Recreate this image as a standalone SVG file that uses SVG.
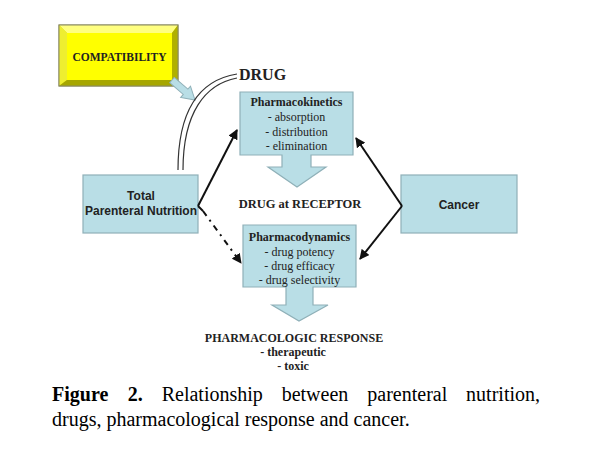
<svg xmlns="http://www.w3.org/2000/svg" width="597" height="463" viewBox="0 0 597 463">
<defs>
<style>
.box{fill:#b9dee6;stroke:#8fb0b8;stroke-width:1.2}
.ln{stroke:#111;stroke-width:2;fill:none}
</style>
<marker id="ah" viewBox="0 0 10 10" refX="9" refY="5" markerWidth="5" markerHeight="5" orient="auto" markerUnits="strokeWidth">
<path d="M0,0 L10,5 L0,10 Z" fill="#111"/>
</marker>
</defs>
<rect width="597" height="463" fill="#fff"/>

<g id="compatibility">
<rect x="59" y="25" width="119" height="61" fill="#d6d600" stroke="#8a8a60" stroke-width="1"/>
<polygon points="59,25 178,25 172,33 67,33" fill="#ffff80"/>
<polygon points="59,25 67,33 67,80 59,86" fill="#eeee30"/>
<polygon points="178,25 178,86 172,80 172,33" fill="#b0b000"/>
<polygon points="59,86 178,86 172,80 67,80" fill="#a6a600"/>
<rect x="67" y="33" width="105" height="47" fill="#ffff00"/>
<rect x="59" y="25" width="119" height="61" fill="none" stroke="#8a8a60" stroke-width="1"/>
<text x="119.5" y="61" font-family="'Liberation Serif','Times New Roman',serif" font-weight="bold" font-size="11.5" fill="#222" text-anchor="middle">COMPATIBILITY</text>
<path transform="translate(172,80) rotate(41)" d="M0,-3.5 L18,-3.5 L18,-7.5 L30.5,0 L18,7.5 L18,3.5 L0,3.5 Z" fill="#b9dee6" stroke="#8fb0b8" stroke-width="1"/>
</g>

<g id="drug">
<path d="M237,74 C200,80 178,110 178,170" fill="none" stroke="#333" stroke-width="1.2"/>
<path d="M237,78 C205,84 183,113 183,170" fill="none" stroke="#333" stroke-width="1.2"/>
<text x="239" y="80" font-family="'Liberation Serif','Times New Roman',serif" font-weight="bold" font-size="16" fill="#222">DRUG</text>
</g>

<g id="pharmacokinetics" font-family="'Liberation Serif','Times New Roman',serif" font-size="12" fill="#222" text-anchor="middle">
<path class="box" d="M240,92 H353 V155 H311 V167 H326 L297,187 L268,167 H282 V155 H240 Z"/>
<text x="296.5" y="106" font-weight="bold">Pharmacokinetics</text>
<text x="296.5" y="121">- absorption</text>
<text x="296.5" y="135.5">- distribution</text>
<text x="296.5" y="150">- elimination</text>
</g>

<g id="receptor">
<text x="300" y="208" font-family="'Liberation Serif','Times New Roman',serif" font-weight="bold" font-size="12.5" fill="#222" text-anchor="middle">DRUG at RECEPTOR</text>
</g>

<g id="pharmacodynamics" font-family="'Liberation Serif','Times New Roman',serif" font-size="12" fill="#222" text-anchor="middle">
<path class="box" d="M243,225 H356 V287 H313 V305 H328 L299,321 L272,305 H286 V287 H243 Z"/>
<text x="299.5" y="241" font-weight="bold">Pharmacodynamics</text>
<text x="299.5" y="255.5">- drug potency</text>
<text x="299.5" y="269.5">- drug efficacy</text>
<text x="299.5" y="283.5">- drug selectivity</text>
</g>

<g id="response" font-family="'Liberation Serif','Times New Roman',serif" font-weight="bold" font-size="12" fill="#222" text-anchor="middle">
<text x="294" y="342">PHARMACOLOGIC RESPONSE</text>
<text x="293" y="356">- therapeutic</text>
<text x="293" y="370">- toxic</text>
</g>

<g id="tpn" font-family="'Liberation Sans',Arial,sans-serif" font-weight="bold" font-size="12" fill="#222" text-anchor="middle">
<rect class="box" x="83" y="175" width="115" height="58"/>
<text x="141" y="200">Total</text>
<text x="141" y="215">Parenteral Nutrition</text>
</g>

<g id="cancer" font-family="'Liberation Sans',Arial,sans-serif" font-weight="bold" font-size="12" fill="#222" text-anchor="middle">
<rect class="box" x="401" y="175" width="116" height="58"/>
<text x="459" y="209">Cancer</text>
</g>

<g id="connectors">
<line class="ln" x1="198" y1="206" x2="237" y2="130" marker-end="url(#ah)"/>
<line class="ln" x1="198" y1="206" x2="203" y2="211"/>
<line class="ln" x1="203" y1="211" x2="241" y2="263" stroke-dasharray="6 5 2 5" marker-end="url(#ah)"/>
<line class="ln" x1="402" y1="206" x2="356" y2="138" marker-end="url(#ah)"/>
<line class="ln" x1="402" y1="206" x2="360" y2="259" marker-end="url(#ah)"/>
</g>

<g id="caption" font-family="'Liberation Serif','Times New Roman',serif" font-size="20" fill="#000">
<text x="52" y="401" font-weight="bold">Figure</text>
<text x="127.7" y="401" font-weight="bold">2.</text>
<text x="161.7" y="401">Relationship</text>
<text x="281.7" y="401">between</text>
<text x="367.3" y="401">parenteral</text>
<text x="540" y="401" text-anchor="end">nutrition,</text>
<text x="52" y="426">drugs, pharmacological response and cancer.</text>
</g>
</svg>
